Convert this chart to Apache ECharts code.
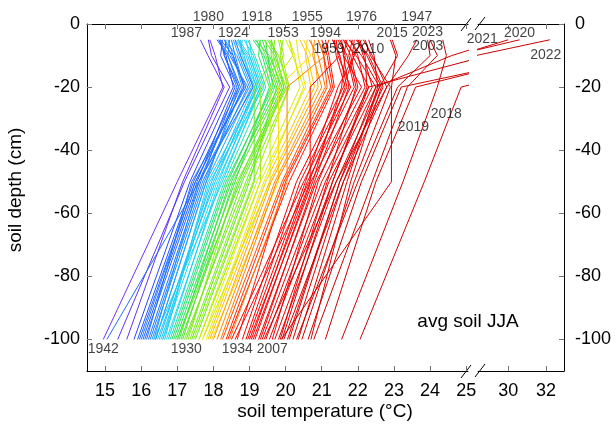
<!DOCTYPE html>
<html>
<head>
<meta charset="utf-8">
<script src="https://cdn.jsdelivr.net/npm/echarts@6/dist/echarts.min.js"></script>
<style>
  html, body { margin: 0; padding: 0; background: #fff; }
  #chart { width: 616px; height: 434px; }
</style>
</head>
<body>
<div id="chart"></div>
<script>
// depths of the sensors (cm, negative = below surface)
const depths = [-5, -10, -20, -50, -100]

// [year, T5, T10, T20, T50, T100]
const profilesCold = [
  [1942, 17.90, 18.05, 18.26, 17.00, 14.95],
  [1987, 17.64, 17.85, 18.30, 17.15, 15.60],
  [1980, 17.86, 17.95, 18.45, 17.20, 15.35],
  [1917, 18.15, 18.35, 18.55, 17.35, 15.80],
  [1928, 18.20, 18.30, 18.70, 17.45, 15.90],
  [1924, 18.50, 18.60, 18.85, 17.50, 16.00],
  [1965, 18.25, 18.20, 18.60, 17.55, 16.05],
  [1962, 18.10, 18.40, 18.75, 17.60, 16.10],
  [1941, 18.30, 18.50, 18.90, 17.40, 16.15],
  [1956, 18.35, 18.30, 18.65, 17.65, 16.20],
  [1974, 18.15, 18.45, 18.95, 17.70, 16.25],
  [1978, 18.40, 18.55, 18.80, 17.75, 16.30],
  [1972, 18.30, 18.65, 19.00, 17.60, 16.35],
  [1914, 18.45, 18.40, 18.70, 17.80, 16.40],
  [1945, 18.20, 18.55, 18.85, 17.50, 15.95]
]
const profilesCool = [
  [1912, 18.55, 18.70, 19.05, 17.80, 16.40],
  [1951, 18.70, 18.85, 19.10, 17.95, 16.50],
  [1916, 18.60, 18.90, 19.20, 18.00, 16.55],
  [1969, 18.80, 18.75, 19.15, 18.05, 16.45],
  [1979, 18.90, 19.00, 19.30, 18.10, 16.60],
  [1923, 18.65, 18.95, 19.25, 17.85, 16.65],
  [1936, 19.00, 19.05, 19.35, 18.20, 16.70],
  [1913, 18.75, 18.80, 19.20, 18.15, 16.75],
  [1948, 18.85, 19.10, 19.40, 17.90, 16.60],
  [1910, 18.60, 18.75, 19.10, 17.60, 15.05],
  [1963, 18.95, 19.15, 19.45, 18.30, 16.80],
  [1926, 18.70, 19.00, 19.30, 18.25, 16.35]
]
const profilesMild = [
  [1918, 19.20, 19.35, 19.60, 18.40, 16.90],
  [1925, 19.10, 19.40, 19.70, 18.50, 16.95],
  [1958, 19.30, 19.25, 19.55, 18.60, 17.00],
  [1966, 19.45, 19.50, 19.80, 18.45, 17.05],
  [1970, 19.15, 19.55, 19.90, 18.70, 17.10],
  [1977, 19.60, 19.60, 19.85, 18.55, 17.15],
  [1930, 19.40, 19.70, 20.00, 18.80, 17.25],
  [1920, 19.70, 19.65, 19.95, 18.90, 17.20],
  [1953, 19.93, 19.85, 20.05, 18.65, 17.30],
  [1985, 19.55, 19.80, 20.10, 18.95, 17.35],
  [1929, 19.25, 19.45, 19.75, 19.00, 17.40],
  [1939, 19.80, 19.90, 20.10, 19.10, 17.45],
  [1967, 19.35, 19.50, 19.65, 18.35, 16.85],
  [1971, 19.50, 19.75, 19.95, 18.75, 17.00]
]
const profilesWarm = [
  [1944, 19.60, 19.75, 19.13, 19.13, 17.50],
  [1931, 19.85, 19.95, 19.30, 19.30, 17.60],
  [1946, 20.10, 20.20, 19.57, 19.57, 17.70],
  [1952, 20.10, 20.25, 20.40, 19.20, 17.60],
  [1960, 20.30, 20.35, 20.55, 19.30, 17.70],
  [1933, 20.00, 20.20, 20.50, 19.40, 17.80],
  [1955, 20.60, 20.55, 20.70, 19.45, 17.85],
  [1950, 20.40, 20.60, 20.80, 19.55, 17.90],
  [1932, 20.50, 20.70, 19.80, 19.80, 17.95],
  [1911, 20.70, 20.80, 20.90, 19.60, 18.00],
  [1937, 20.80, 20.75, 21.00, 19.70, 18.10],
  [1964, 20.65, 20.90, 21.10, 19.75, 18.20],
  [1961, 20.90, 21.05, 21.15, 19.90, 18.25],
  [1959, 21.20, 21.05, 21.25, 19.95, 18.35]
]
const profilesHot = [
  [1934, 21.00, 21.15, 21.30, 20.00, 18.66],
  [1994, 21.10, 21.20, 21.35, 20.10, 18.40],
  [1938, 20.90, 21.10, 20.04, 20.04, 18.45],
  [1991, 21.30, 21.50, 20.68, 20.68, 19.00],
  [1943, 21.30, 21.50, 21.70, 20.40, 18.90],
  [1954, 21.40, 21.45, 21.80, 20.50, 18.50],
  [1976, 22.10, 21.90, 21.60, 20.30, 18.80],
  [1983, 21.50, 21.70, 21.90, 20.60, 19.05],
  [1988, 21.70, 21.60, 22.10, 20.70, 19.15],
  [2007, 21.60, 21.80, 22.00, 20.90, 19.63],
  [1995, 21.80, 22.00, 22.20, 20.85, 19.25],
  [1998, 21.90, 21.85, 22.30, 21.00, 19.35],
  [1999, 22.00, 22.15, 22.40, 21.10, 19.45],
  [2001, 21.60, 21.95, 22.50, 21.20, 19.55],
  [2002, 22.05, 22.20, 22.25, 21.30, 19.70],
  [2005, 21.75, 22.10, 22.60, 21.40, 19.80],
  [2006, 21.95, 22.30, 22.70, 21.50, 20.05],
  [2009, 22.15, 22.40, 22.80, 21.60, 20.20],
  [2010, 22.30, 22.45, 22.55, 21.70, 20.35],
  [2013, 21.45, 21.65, 21.55, 20.75, 19.10],
  [2014, 21.85, 21.75, 21.95, 21.15, 19.85],
  [2016, 22.20, 22.35, 22.90, 21.90, 20.45],
  [2017, 22.00, 22.25, 22.65, 21.80, 20.70],
  [2004, 21.55, 21.60, 21.75, 20.80, 19.30],
  [2000, 21.65, 21.90, 21.45, 20.55, 18.95],
  [1997, 21.35, 21.40, 21.65, 20.65, 18.60],
  [2015, 22.95, 23.10, 22.60, 21.60, 19.95],
  [2019, 22.90, 23.05, 22.93, 22.93, 19.88],
  [1947, 23.63, 23.40, 22.80, 21.40, 19.40],
  [2023, 23.93, 24.00, 23.10, 22.00, 20.30],
  [2003, 24.35, 24.45, 24.20, 23.25, 21.55],
  [2018, 24.00, 24.20, 23.37, 22.40, 20.78],
  [2011, 26.00, 24.60, 22.50, 21.50, 20.10],
  [2012, 27.50, 25.60, 22.30, 21.30, 19.90],
  [2020, 30.60, 27.10, 23.60, 22.50, 21.10],
  [2021, 30.00, 27.30, 23.20, 22.10, 20.62],
  [2022, 32.20, 28.30, 24.86, 23.84, 22.06]
]
const profiles = [...profilesCold, ...profilesCool, ...profilesMild, ...profilesWarm, ...profilesHot]

// axis ticks
const xTicksMain = [15, 16, 17, 18, 19, 20, 21, 22, 23, 24, 25]
const xTicksRight = [30, 32]
const yTicks = [0, -20, -40, -60, -80, -100]

// year labels: [year, depth index, dx, dy]
const yearLabels = [
  [1980, 0, 0, -23], [1918, 0, 0, -23], [1955, 0, 0, -23], [1976, 0, 0, -23], [1947, 0, 0, -23],
  [1987, 0, -14, -7], [1924, 0, 2, -7], [1953, 0, 0, -7], [1994, 0, 0, -7], [2015, 0, 0, -7],
  [2023, 0, 0, -8], [1959, 0, 0, 9], [2010, 0, 0, 9], [2003, 0, -15, 6],
  [2020, 0, 0, -7], [2021, 0, -26, -1], [2022, 0, -4, 15],
  [2019, 2, 22, 40], [2018, 2, 39, 27],
  [1942, 4, 0, 10], [1930, 4, 0, 10], [1934, 4, 0, 10], [2007, 4, 0, 10]
]

const leftMin = 14.5, leftMax = 25.05
const rightMin = 28.4, rightMax = 32.95
const font = 'Liberation Sans, Arial, Helvetica, sans-serif'

// rainbow palette over the mean of the profile
const colorStops = [
  [17.2, [122, 47, 240]], [17.6, [40, 60, 255]], [18.0, [30, 150, 255]],
  [18.4, [30, 220, 240]], [18.8, [50, 225, 60]], [19.3, [170, 240, 0]],
  [19.7, [250, 230, 0]], [20.0, [255, 160, 0]], [20.3, [255, 60, 0]],
  [20.5, [255, 0, 0]], [22.5, [205, 0, 0]]
]
function lineColor(v) {
  if (v <= colorStops[0][0]) return 'rgb(' + colorStops[0][1].join(',') + ')'
  for (let i = 1; i < colorStops.length; i++) {
    const [v1, c1] = colorStops[i]
    const [v0, c0] = colorStops[i - 1]
    if (v <= v1) {
      const f = (v - v0) / (v1 - v0)
      return 'rgb(' + c0.map((c, k) => Math.round(c + (c1[k] - c) * f)).join(',') + ')'
    }
  }
  return 'rgb(' + colorStops[colorStops.length - 1][1].join(',') + ')'
}

const series = []
profiles.forEach(([year, ...temps]) => {
  const mean = temps.reduce((a, b) => a + b, 0) / temps.length
  const color = lineColor(mean)
  const base = {
    type: 'line',
    data: temps.map((t, i) => [t, depths[i]]),
    symbol: 'none',
    silent: true,
    clip: true,
    animation: false,
    lineStyle: { width: 1, color: color },
    itemStyle: { color: color }
  }
  series.push(Object.assign({ name: String(year), xAxisIndex: 0, yAxisIndex: 0 }, base))
  if (Math.max(...temps) > rightMin) {
    series.push(Object.assign({ name: year + 'b', xAxisIndex: 2, yAxisIndex: 1 }, base))
  }
})

const labelData = [[], []]
yearLabels.forEach(([year, di, dx, dy]) => {
  const row = profiles.find(p => p[0] === year)
  const t = row[di + 1]
  labelData[t > rightMin ? 1 : 0].push({
    value: [t, depths[di]],
    label: { formatter: String(year), offset: [dx, dy] }
  })
})
labelData.forEach((d, g) => {
  series.push({
    type: 'scatter',
    xAxisIndex: g === 0 ? 0 : 2,
    yAxisIndex: g,
    data: d,
    symbolSize: 1,
    silent: true,
    animation: false,
    itemStyle: { color: 'rgba(0,0,0,0)' },
    label: { show: true, position: 'inside', color: '#111', fontSize: 14, fontFamily: font },
    z: 5
  })
})

function xAxis(gridIndex, position, min, max, ticks, showLabel) {
  return {
    type: 'value', gridIndex, position, min, max,
    axisLine: { show: true, onZero: false, lineStyle: { color: '#000', width: 1 } },
    axisTick: { show: true, inside: true, length: 5, customValues: ticks, lineStyle: { color: '#777' } },
    axisLabel: { show: showLabel, customValues: ticks, fontSize: 18, color: '#000', fontFamily: font, margin: 11 },
    splitLine: { show: false }
  }
}
function yAxis(gridIndex, position, margin) {
  return {
    type: 'value', gridIndex, position, min: -110, max: 0,
    axisLine: { show: true, onZero: false, lineStyle: { color: '#000', width: 1 } },
    axisTick: { show: true, inside: true, length: 5, customValues: yTicks, lineStyle: { color: '#777' } },
    axisLabel: { customValues: yTicks, fontSize: 18, color: '#000', fontFamily: font, margin },
    splitLine: { show: false }
  }
}

const chart = echarts.init(document.getElementById('chart'))
chart.setOption({
  backgroundColor: '#fff',
  animation: false,
  grid: [
    { left: 87, right: 148, top: 24, bottom: 63 },
    { left: 478, right: 52, top: 24, bottom: 63 }
  ],
  xAxis: [
    xAxis(0, 'bottom', leftMin, leftMax, xTicksMain, true),
    xAxis(0, 'top', leftMin, leftMax, xTicksMain, false),
    xAxis(1, 'bottom', rightMin, rightMax, xTicksRight, true),
    xAxis(1, 'top', rightMin, rightMax, xTicksRight, false)
  ],
  yAxis: [
    yAxis(0, 'left', 7),
    yAxis(1, 'right', 11)
  ],
  graphic: [
    // axis break marks
    { type: 'line', shape: { x1: 461, y1: 31, x2: 471, y2: 18 }, style: { stroke: '#000', lineWidth: 1 } },
    { type: 'line', shape: { x1: 475, y1: 30, x2: 485, y2: 17 }, style: { stroke: '#000', lineWidth: 1 } },
    { type: 'line', shape: { x1: 461, y1: 378, x2: 471, y2: 365 }, style: { stroke: '#000', lineWidth: 1 } },
    { type: 'line', shape: { x1: 475, y1: 377, x2: 485, y2: 364 }, style: { stroke: '#000', lineWidth: 1 } },
    { type: 'text', x: 325, y: 412, style: { text: 'soil temperature (°C)', font: '19px ' + font, fill: '#000', align: 'center', verticalAlign: 'middle' } },
    { type: 'text', x: 16, y: 190, rotation: Math.PI / 2, style: { text: 'soil depth (cm)', font: '19px ' + font, fill: '#000', align: 'center', verticalAlign: 'middle' } },
    { type: 'text', x: 468, y: 322, style: { text: 'avg soil JJA', font: '19px ' + font, fill: '#000', align: 'center', verticalAlign: 'middle' } }
  ],
  series
})
</script>
</body>
</html>
